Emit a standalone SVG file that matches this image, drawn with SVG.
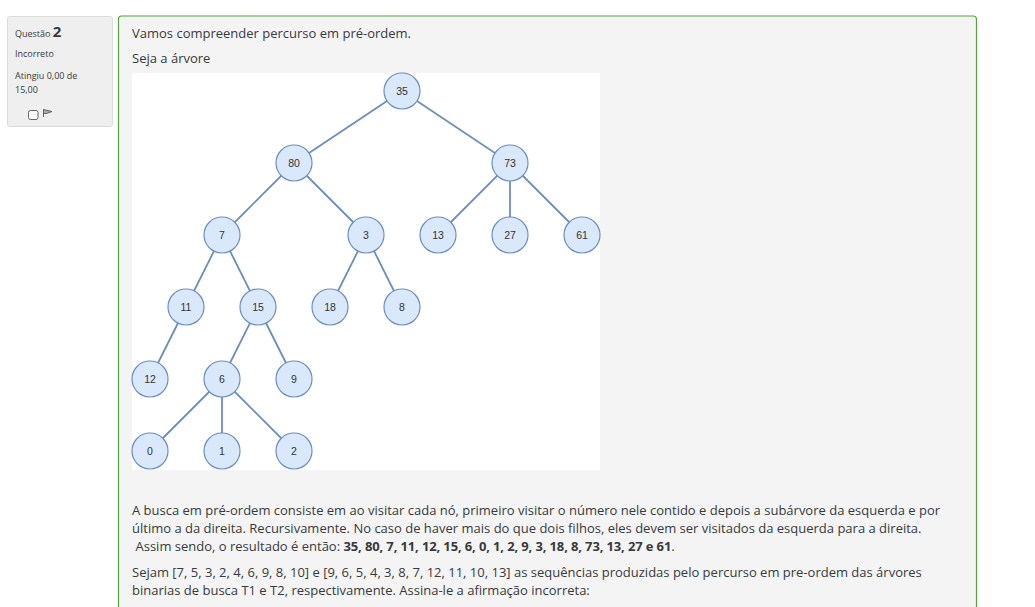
<svg xmlns="http://www.w3.org/2000/svg" width="1035" height="607" viewBox="0 0 1035 607">
<style>
.t{font-family:"Open Sans","Noto Sans",sans-serif;font-size:13px;fill:#373a3c}
.s{font-family:"Open Sans","Noto Sans",sans-serif;font-size:9px;fill:#373a3c}
.e{stroke:#6c8ebf;stroke-width:1.8;fill:none}
.n circle{fill:#dae8fc;stroke:#6c8ebf;stroke-width:1.2}
.n text{font-family:"Liberation Sans",Arial,sans-serif;font-size:10.5px;fill:#333;text-anchor:middle}
</style>
<rect width="1035" height="607" fill="#fff"/>
<g id="info">
<rect x="7.5" y="16.5" width="105" height="110" rx="2" fill="#efefef" stroke="#dcdcdc"/>
<text class="s" x="15" y="37">Questão <tspan style="font-size:15px;font-weight:bold">2</tspan></text>
<text class="s" x="15" y="57">Incorreto</text>
<text class="s" x="15" y="79">Atingiu 0,00 de</text>
<text class="s" x="15" y="93">15,00</text>
<rect x="28.5" y="110.5" width="9.5" height="9" rx="2" fill="#fff" stroke="#666"/>
<path d="M43.5 109 L43.5 117 M43.5 109.5 L52 111.5 L46.5 113.5 L43.5 113.5 Z" fill="#aaa" stroke="#666" stroke-width="1"/>
</g>
<g id="content">
<path d="M118.5 607 L118.5 19 Q118.5 16 121.5 16 L973 16 Q976.5 16 976.5 19.5 L976.5 607" fill="#f4f4f4" stroke="#55a043" stroke-width="1.2"/>
<text class="t" x="132" y="38">Vamos compreender percurso em pré-ordem.</text>
<text class="t" x="132" y="63">Seja a árvore</text>
<rect x="132" y="73" width="468" height="397" fill="#fff"/>
<text class="t" x="132" y="515">A busca em pré-ordem consiste em ao visitar cada nó, primeiro visitar o número nele contido e depois a subárvore da esquerda e por</text>
<text class="t" x="132" y="533">último a da direita. Recursivamente. No caso de haver mais do que dois filhos, eles devem ser visitados da esquerda para a direita.</text>
<text class="t" x="135.5" y="551">Assim sendo, o resultado é então: <tspan font-weight="bold" letter-spacing="-0.13">35, 80, 7, 11, 12, 15, 6, 0, 1, 2, 9, 3, 18, 8, 73, 13, 27 e 61</tspan>.</text>
<text class="t" x="132" y="577">Sejam [7, 5, 3, 2, 4, 6, 9, 8, 10] e [9, 6, 5, 4, 3, 8, 7, 12, 11, 10, 13] as sequências produzidas pelo percurso em pre-ordem das árvores</text>
<text class="t" x="132" y="595">binarias de busca T1 e T2, respectivamente. Assina-le a afirmação incorreta:</text>
</g>
<g id="edges">
<line class="e" x1="402" y1="91" x2="294" y2="163"/>
<line class="e" x1="402" y1="91" x2="510" y2="163"/>
<line class="e" x1="294" y1="163" x2="222" y2="235"/>
<line class="e" x1="294" y1="163" x2="366" y2="235"/>
<line class="e" x1="510" y1="163" x2="438" y2="235"/>
<line class="e" x1="510" y1="163" x2="510" y2="235"/>
<line class="e" x1="510" y1="163" x2="582" y2="235"/>
<line class="e" x1="222" y1="235" x2="186" y2="307"/>
<line class="e" x1="222" y1="235" x2="258" y2="307"/>
<line class="e" x1="366" y1="235" x2="330" y2="307"/>
<line class="e" x1="366" y1="235" x2="402" y2="307"/>
<line class="e" x1="186" y1="307" x2="150" y2="379"/>
<line class="e" x1="258" y1="307" x2="222" y2="379"/>
<line class="e" x1="258" y1="307" x2="294" y2="379"/>
<line class="e" x1="222" y1="379" x2="150" y2="451"/>
<line class="e" x1="222" y1="379" x2="222" y2="451"/>
<line class="e" x1="222" y1="379" x2="294" y2="451"/>
</g>
<g id="n35" class="n"><circle cx="402" cy="91" r="18"/><text x="402" y="95">35</text></g>
<g id="n80" class="n"><circle cx="294" cy="163" r="18"/><text x="294" y="167">80</text></g>
<g id="n73" class="n"><circle cx="510" cy="163" r="18"/><text x="510" y="167">73</text></g>
<g id="n7" class="n"><circle cx="222" cy="235" r="18"/><text x="222" y="239">7</text></g>
<g id="n3" class="n"><circle cx="366" cy="235" r="18"/><text x="366" y="239">3</text></g>
<g id="n13" class="n"><circle cx="438" cy="235" r="18"/><text x="438" y="239">13</text></g>
<g id="n27" class="n"><circle cx="510" cy="235" r="18"/><text x="510" y="239">27</text></g>
<g id="n61" class="n"><circle cx="582" cy="235" r="18"/><text x="582" y="239">61</text></g>
<g id="n11" class="n"><circle cx="186" cy="307" r="18"/><text x="186" y="311">11</text></g>
<g id="n15" class="n"><circle cx="258" cy="307" r="18"/><text x="258" y="311">15</text></g>
<g id="n18" class="n"><circle cx="330" cy="307" r="18"/><text x="330" y="311">18</text></g>
<g id="n8" class="n"><circle cx="402" cy="307" r="18"/><text x="402" y="311">8</text></g>
<g id="n12" class="n"><circle cx="150" cy="379" r="18"/><text x="150" y="383">12</text></g>
<g id="n6" class="n"><circle cx="222" cy="379" r="18"/><text x="222" y="383">6</text></g>
<g id="n9" class="n"><circle cx="294" cy="379" r="18"/><text x="294" y="383">9</text></g>
<g id="n0" class="n"><circle cx="150" cy="451" r="18"/><text x="150" y="455">0</text></g>
<g id="n1" class="n"><circle cx="222" cy="451" r="18"/><text x="222" y="455">1</text></g>
<g id="n2" class="n"><circle cx="294" cy="451" r="18"/><text x="294" y="455">2</text></g>
</svg>
